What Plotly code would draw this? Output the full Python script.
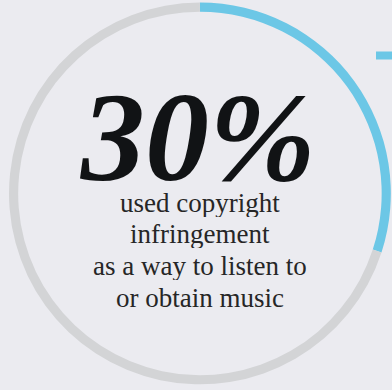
import plotly.graph_objects as go

labels = ["Used copyright infringement", "Other"]
values = [30, 70]
colors = ["#6cc7e6", "#d3d4d6"]
headline = "30%"
caption_lines = ["used copyright", "infringement", "as a way to listen to", "or obtain music"]

W, H = 392, 390
fig = go.Figure(go.Pie(
    labels=labels, values=values, hole=0.952, sort=False, direction="clockwise",
    rotation=0, textinfo="none", hoverinfo="skip",
    marker=dict(colors=colors, line=dict(width=0)),
    domain=dict(x=[0.023, 0.997], y=[0.014, 0.994]),
    showlegend=False,
))

fig.add_annotation(x=198/W, y=1-137/H, xref="paper", yref="paper", text=headline,
                   showarrow=False, xanchor="center", yanchor="middle", height=100,
                   font=dict(family="Liberation Serif", size=128, color="#111315",
                             weight="bold", style="italic"))
ys = [202, 233.5, 265, 297]
for t, yy in zip(caption_lines, ys):
    fig.add_annotation(x=200/W, y=1-yy/H, xref="paper", yref="paper", text=t,
                       showarrow=False, xanchor="center", yanchor="middle", height=29,
                       font=dict(family="Liberation Serif", size=27, color="#262626"))

fig.add_shape(type="line", xref="paper", yref="paper", x0=376/W, x1=1.05, y0=1-55.5/H, y1=1-55.5/H,
              line=dict(color="#6cc7e6", width=8))

fig.update_layout(width=W, height=H, margin=dict(l=0, r=0, t=0, b=0),
                  paper_bgcolor="#ebebf0", plot_bgcolor="#ebebf0")
fig.write_html("out.html")
